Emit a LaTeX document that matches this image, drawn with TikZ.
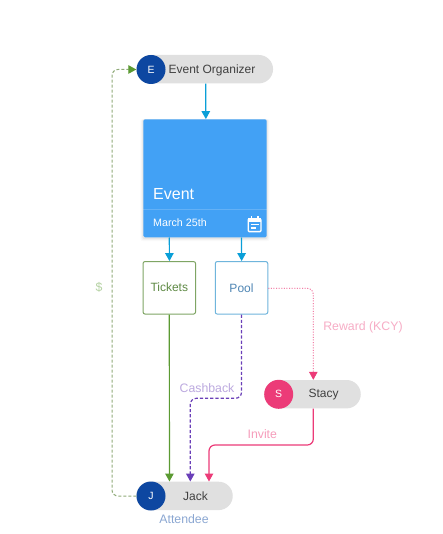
\documentclass[tikz,border=0pt]{standalone}
\usepackage{fontspec}
\setmainfont{Liberation Sans}
\usetikzlibrary{arrows.meta,shapes.misc,calc}
\definecolor{pillgray}{HTML}{E0E0E0}
\definecolor{cyanline}{HTML}{0A9FD8}
\definecolor{cardblue}{HTML}{42A1F5}
\definecolor{indigo}{HTML}{0D47A1}
\definecolor{pinkc}{HTML}{EC3B78}
\definecolor{greenc}{HTML}{5B9A32}
\definecolor{purplec}{HTML}{6A3FB8}
\definecolor{ticketborder}{HTML}{7FA564}
\definecolor{ticketinkc}{HTML}{5F8A45}
\definecolor{poolborder}{HTML}{6FB5DC}
\definecolor{poolink}{HTML}{4F86B4}
\definecolor{dollarline}{HTML}{8FAA78}
\tikzset{
  pill/.style={rounded rectangle,fill=pillgray,inner sep=0pt,minimum height=28.4pt},
  avatar/.style={circle,inner sep=0pt,minimum size=29pt,text=white,font=\fontsize{10.5}{12}\selectfont},
  boxn/.style={rectangle,rounded corners=2pt,fill=white,line width=1pt,minimum width=52.5pt,minimum height=52.5pt,inner sep=0pt,font=\fontsize{12}{14}\selectfont},
  lbl/.style={inner sep=0pt,font=\fontsize{12.3}{14}\selectfont},
  pilltxt/.style={inner sep=0pt,text=black!75,font=\fontsize{12}{14}\selectfont},
  flow/.style={-{Triangle[length=8pt,width=8.5pt]},line width=1.2pt,rounded corners=6pt},
}
\begin{document}
\begin{tikzpicture}[x=1pt,y=-1pt]
\useasboundingbox (0,0) rectangle (443,534);
\fill[white] (0,0) rectangle (443,534);
% card shadow
\foreach \d/\o in {3/0.02,2/0.03,1/0.05}{
  \fill[black,opacity=\o,rounded corners=2pt] (143.3-\d,119.3) rectangle (266.7+\d,238+\d);
}
% pills
\node[pill,minimum width=136.5pt] (orgpill) at (204.8,69.2) {};
\node[pill,minimum width=96.5pt] (stacypill) at (312.5,394.2) {};
\node[pill,minimum width=96.5pt] (jackpill) at (184.5,495.9) {};
\node[avatar,fill=indigo] (orgav) at (151,69.5) {E};
\node[avatar,fill=pinkc] (stacyav) at (278.7,394.3) {S};
\node[avatar,fill=indigo] (jackav) at (151,496) {J};
\node[pilltxt] (orgtxt) at (212,70) {Event Organizer};
\node[pilltxt] (stacytxt) at (323.5,395) {Stacy};
\node[pilltxt] (jacktxt) at (195.5,496) {Jack};
% card
\node[rectangle,rounded corners=1.5pt,fill=cardblue,minimum width=123.4pt,minimum height=118pt,inner sep=0pt] (card) at (205,178.3) {};
\draw[white,opacity=0.18,line width=0.7pt] ($(card.west)+(0,31)$) -- ($(card.east)+(0,31)$);
\node[inner sep=0pt,text=white,anchor=base west,font=\fontsize{16}{18}\selectfont] (evt) at (153,199.5) {Event};
\node[inner sep=0pt,text=white,anchor=base west,font=\fontsize{10.7}{13}\selectfont] (date) at (153,226) {March 25th};
% calendar icon
\begin{scope}[white]
  \draw[line width=1.4pt,rounded corners=1pt] (248.2,219) rectangle (261,231.6);
  \fill (248,218.4) rectangle (261.2,222.2);
  \draw[line width=1.3pt] (251.2,216.2) -- (251.2,219) (258,216.2) -- (258,219);
  \draw[line width=1.1pt] (250.5,224.8) -- (258.8,224.8) (250.5,228) -- (256,228);
\end{scope}
% boxes
\node[boxn,draw=ticketborder,text=ticketinkc] (tickets) at (169.3,287.8) {\raisebox{1.6pt}{Tickets}};
\node[boxn,draw=poolborder,text=poolink] (pool) at (241.5,287.8) {Pool};
% connectors
\coordinate (orgdrop) at (205.7,100);
\coordinate (nudge) at (0.15,0);
\draw[flow,cyanline] (orgdrop |- orgpill.south) -- ($(orgdrop |- card.north)+(nudge)$);
\draw[flow,cyanline] (card.south -| tickets.north) -- ($(tickets.north)+(nudge)$);
\draw[flow,cyanline] (card.south -| pool.north) -- ($(pool.north)+(nudge)$);
\draw[flow,greenc] (tickets.south) -- ($(tickets.south |- jackpill.north)+(nudge)$);
\coordinate (cashturn) at (190.3,398.3);
\draw[flow,purplec,dash pattern=on 3.2pt off 2pt] (pool.south) -- (pool.south |- cashturn) -- (cashturn) -- (cashturn |- jackpill.north);
\coordinate (rewardturn) at (313.3,288.3);
\draw[flow,pinkc,line width=0.8pt,dash pattern=on 1pt off 1.6pt] (pool.east |- rewardturn) -- (rewardturn) -- (rewardturn |- stacypill.north);
\coordinate (inviteturn) at (209,445);
\draw[flow,pinkc] (rewardturn |- stacypill.south) -- (rewardturn |- inviteturn) -- (inviteturn) -- (inviteturn |- jackpill.north);
\coordinate (dollarturn) at (112,287);
\draw[dollarline,line width=1pt,rounded corners=6pt,dash pattern=on 3pt off 2pt,-{Triangle[length=8pt,width=8.5pt,color=greenc,fill=greenc]}] (jackav.west) -- (dollarturn |- jackav.west) -- (dollarturn |- orgav.west) -- (orgav.west);
% labels
\node[lbl,text=greenc!45!white] (dollar) at (99,287) {\$};
\node[lbl,text=pinkc!42!white] (reward) at (363,327) {Reward (KCY)};
\node[lbl,text=purplec!45!white] (cash) at (207,388) {Cashback};
\node[lbl,text=pinkc!50!white] (invite) at (262.3,434) {Invite};
\node[lbl,text=indigo!48!white] (att) at (184,519) {Attendee};
\end{tikzpicture}
\end{document}
